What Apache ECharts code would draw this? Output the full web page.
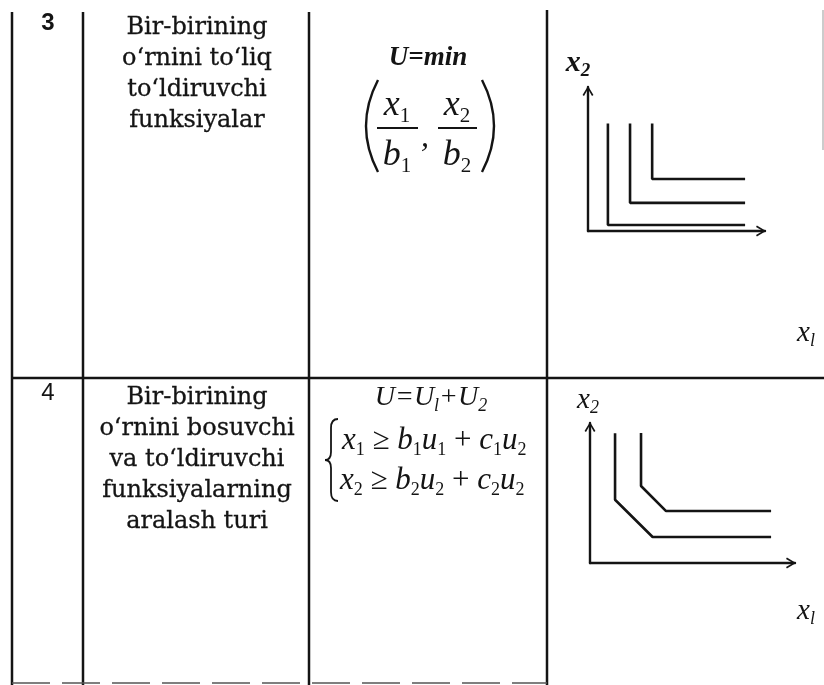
<!DOCTYPE html>
<html>
<head>
<meta charset="utf-8">
<script src="https://cdn.jsdelivr.net/npm/echarts@6/dist/echarts.min.js"></script>
<style>
html, body { margin: 0; padding: 0; background: #fff; }
#main { width: 824px; height: 685px; }
</style>
</head>
<body>
<div id="main"></div>
<script>
// row labels of the table
const rowNumbers = ['3', '4']
const rowNames = [
  'Bir-birining\no‘rnini to‘liq\nto‘ldiruvchi\nfunksiyalar',
  'Bir-birining\no‘rnini bosuvchi\nva to‘ldiruvchi\nfunksiyalarning\naralash turi'
]

// row 3: perfect complements, L-shaped indifference curves
const compXMax = 8
const compYMax = 6.5
const compCurve1 = [[0.9, 4.85], [0.9, 0.27], [7.1, 0.27]]
const compCurve2 = [[1.9, 4.85], [1.9, 1.27], [7.1, 1.27]]
const compCurve3 = [[2.9, 4.85], [2.9, 2.35], [7.1, 2.35]]

// row 4: mixed substitutes / complements
const mixXMax = 9
const mixYMax = 6.2
const mixCurve1 = [[1.1, 5.75], [1.1, 2.8], [2.75, 1.15], [7.95, 1.15]]
const mixCurve2 = [[2.24, 5.76], [2.24, 3.41], [3.34, 2.3], [7.95, 2.3]]

const ink = '#141414'
const chevron = 'path://M0,10 L6,0 L12,10 L10.4,11 L6,3.4 L1.6,11 Z'

const serifIt = 'Liberation Serif'

function line(x1, y1, x2, y2, extra) {
  return Object.assign({
    type: 'line',
    shape: { x1, y1, x2, y2 },
    style: { stroke: ink, lineWidth: 2.5 },
    silent: true
  }, extra || {})
}

function curve(x1, y1, cpx1, cpy1, x2, y2, w) {
  return {
    type: 'bezierCurve',
    shape: { x1, y1, cpx1, cpy1, x2, y2 },
    style: { stroke: ink, lineWidth: w || 2, fill: null },
    silent: true
  }
}

function text(x, y, str, style) {
  return {
    type: 'text',
    silent: true,
    style: Object.assign({
      x, y, text: str, fill: ink,
      align: 'center', verticalAlign: 'middle',
      textAlign: 'center', textVerticalAlign: 'middle'
    }, style)
  }
}

// rich styles for formulas
function mathRich(size, subSize, subItalic, weight) {
  return {
    i: { fontFamily: serifIt, fontStyle: 'italic', fontWeight: weight || 'normal', fontSize: size, lineHeight: size + 6, fill: ink },
    r: { fontFamily: serifIt, fontSize: size, lineHeight: size + 6, fill: ink },
    s: { fontFamily: serifIt, fontStyle: subItalic ? 'italic' : 'normal', fontWeight: weight || 'normal', fontSize: subSize, lineHeight: subSize, verticalAlign: 'bottom', fill: ink }
  }
}

function axisPair(gridIndex, xMax, yMax) {
  const axisLine = {
    show: true, onZero: false,
    symbol: ['none', chevron], symbolSize: [13, 10], symbolOffset: [0, -4],
    lineStyle: { color: ink, width: 2.4 }
  }
  const common = {
    type: 'value', gridIndex, min: 0,
    axisLine,
    axisTick: { show: false }, axisLabel: { show: false }, splitLine: { show: false }
  }
  return [
    Object.assign({}, common, { max: xMax }),
    Object.assign({}, common, { max: yMax })
  ]
}

function curveSeries(data, idx) {
  return {
    type: 'line', xAxisIndex: idx, yAxisIndex: idx, data,
    symbol: 'none', showSymbol: false, silent: true,
    lineStyle: { color: ink, width: 2.6 }
  }
}

const compAxes = axisPair(0, compXMax, compYMax)
const mixAxes = axisPair(1, mixXMax, mixYMax)

// slight outline in the text colour for the heavier print look
const bodyFont = { fontFamily: 'DejaVu Serif', fontSize: 24, lineHeight: 31, verticalAlign: 'top', textVerticalAlign: 'top', stroke: ink, lineWidth: 0.3 }

const graphics = [
  // table
  line(12, 12, 12, 685), line(83, 12, 83, 685), line(309, 12, 309, 685), line(547, 10, 547, 685),
  line(12, 378, 824, 378),
  line(12, 683, 547, 683, { style: { stroke: '#555', lineWidth: 1.4, lineDash: [38, 12] } }),
  line(823, 10, 823, 150, { style: { stroke: '#aaa', lineWidth: 1.2 } }),

  // row numbers
  text(48, 23, rowNumbers[0], { fontFamily: 'Liberation Sans', fontWeight: 'bold', fontSize: 24 }),
  text(48, 393, rowNumbers[1], { fontFamily: 'Liberation Sans', fontSize: 24 }),

  // names
  text(197, 12, rowNames[0], bodyFont),
  text(197, 382, rowNames[1], bodyFont),

  // row 3 formula: U = min(x1/b1, x2/b2)
  text(428, 58, '{i|U=min}', { rich: mathRich(27, 15, false, 'bold') }),
  text(397, 106, '{i|x}{s|1}', { rich: mathRich(36, 21, false) }),
  text(397, 156, '{i|b}{s|1}', { rich: mathRich(36, 21, false) }),
  text(457, 106, '{i|x}{s|2}', { rich: mathRich(36, 21, false) }),
  text(457, 156, '{i|b}{s|2}', { rich: mathRich(36, 21, false) }),
  text(425, 138, ',', { fontFamily: serifIt, fontStyle: 'italic', fontSize: 32 }),
  line(377, 128, 418, 128, { style: { stroke: ink, lineWidth: 1.8 } }),
  line(438, 128, 477, 128, { style: { stroke: ink, lineWidth: 1.8 } }),
  curve(378, 80, 354, 126, 378, 172, 2.4),
  curve(482, 80, 506, 126, 482, 172, 2.4),

  // row 4 formula
  text(431, 398, '{i|U=U}{s|l}{i|+U}{s|2}', { rich: mathRich(28, 18, true) }),
  text(342, 441, '{i|x}{s|1}{r| ≥ }{i|b}{s|1}{i|u}{s|1}{r| + }{i|c}{s|1}{i|u}{s|2}',
    { rich: mathRich(31, 18, false), align: 'left', textAlign: 'left' }),
  text(340, 481, '{i|x}{s|2}{r| ≥ }{i|b}{s|2}{i|u}{s|2}{r| + }{i|c}{s|2}{i|u}{s|2}',
    { rich: mathRich(31, 18, false), align: 'left', textAlign: 'left' }),
  // brace
  curve(338, 419, 331, 419, 331, 428, 1.8),
  line(331, 428, 331, 452, { style: { stroke: ink, lineWidth: 1.8 } }),
  curve(331, 452, 331, 460, 325, 460, 1.8),
  curve(325, 460, 331, 460, 331, 468, 1.8),
  line(331, 468, 331, 492, { style: { stroke: ink, lineWidth: 1.8 } }),
  curve(331, 492, 331, 501, 338, 501, 1.8),

  // axis names
  text(578, 63, '{i|x}{s|2}', { rich: mathRich(30, 19, true, 'bold') }),
  text(806, 333, '{i|x}{s|l}', { rich: mathRich(29, 18, true) }),
  text(588, 400, '{i|x}{s|2}', { rich: mathRich(29, 18, true) }),
  text(806, 611, '{i|x}{s|l}', { rich: mathRich(29, 18, true) })
]

const chart = echarts.init(document.getElementById('main'))
chart.setOption({
  backgroundColor: '#fff',
  animation: false,
  grid: [
    { left: 588, top: 87, width: 177, height: 144, containLabel: false },
    { left: 590, top: 423, width: 205, height: 140, containLabel: false }
  ],
  xAxis: [compAxes[0], mixAxes[0]],
  yAxis: [compAxes[1], mixAxes[1]],
  series: [
    curveSeries(compCurve1, 0),
    curveSeries(compCurve2, 0),
    curveSeries(compCurve3, 0),
    curveSeries(mixCurve1, 1),
    curveSeries(mixCurve2, 1)
  ],
  graphic: graphics
})
</script>
</body>
</html>
